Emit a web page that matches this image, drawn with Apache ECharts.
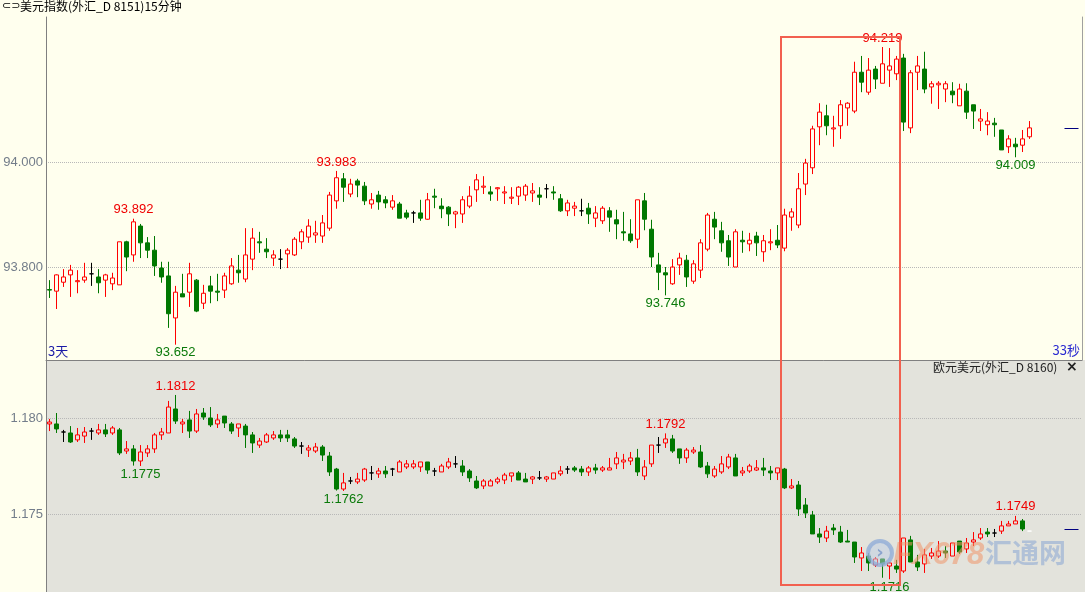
<!DOCTYPE html>
<html><head><meta charset="utf-8">
<script src="https://cdn.jsdelivr.net/npm/echarts@6/dist/echarts.min.js"></script>
<style>
html,body{margin:0;padding:0;background:#ffffee;overflow:hidden;}
#wrap{position:relative;width:1085px;height:592px;}
#lowerBg{position:absolute;left:46px;top:360px;width:1039px;height:232px;background:#e3e3dc;}
#c{position:absolute;left:0;top:0;width:1085px;height:592px;}
</style>
</head><body>
<div id="wrap"><div id="lowerBg"></div><div id="c"></div></div>
<script>
// ---------- data ----------
const categoryCount = 148;
const categories = Array.from({length: categoryCount}, (_, i) => 'K' + (i + 1));

// [open, close, low, high]  美元指数 15分钟
const usdIndexOHLC = [
[93.757,93.756,93.741,93.775],[93.754,93.785,93.720,93.786],[93.771,93.781,93.762,93.796],[93.785,93.794,93.743,93.804],
[93.772,93.774,93.750,93.794],[93.775,93.781,93.770,93.808],[93.787,93.787,93.764,93.808],[93.781,93.770,93.750,93.796],
[93.775,93.785,93.743,93.787],[93.768,93.779,93.756,93.789],[93.766,93.848,93.766,93.848],[93.848,93.819,93.792,93.850],
[93.823,93.886,93.810,93.892],[93.878,93.846,93.817,93.882],[93.846,93.832,93.817,93.857],[93.832,93.802,93.783,93.859],
[93.798,93.781,93.770,93.810],[93.783,93.711,93.684,93.810],[93.703,93.752,93.652,93.764],[93.749,93.743,93.743,93.787],
[93.752,93.787,93.724,93.808],[93.775,93.716,93.714,93.777],[93.731,93.750,93.720,93.766],[93.764,93.754,93.731,93.783],
[93.754,93.752,93.735,93.787],[93.756,93.783,93.741,93.789],[93.768,93.802,93.766,93.817],[93.794,93.789,93.770,93.823],
[93.777,93.823,93.771,93.874],[93.815,93.855,93.794,93.874],[93.848,93.846,93.827,93.867],[93.834,93.829,93.817,93.855],
[93.817,93.823,93.802,93.832],[93.815,93.815,93.796,93.834],[93.825,93.832,93.798,93.836],[93.823,93.853,93.821,93.857],
[93.848,93.867,93.834,93.872],[93.857,93.878,93.846,93.891],[93.861,93.865,93.846,93.888],[93.859,93.884,93.846,93.899],
[93.874,93.937,93.869,93.943],[93.926,93.970,93.911,93.983],[93.968,93.952,93.924,93.979],[93.939,93.958,93.933,93.968],
[93.964,93.956,93.933,93.968],[93.954,93.926,93.918,93.962],[93.920,93.928,93.911,93.941],[93.937,93.924,93.909,93.945],
[93.928,93.922,93.912,93.935],[93.914,93.926,93.909,93.937],[93.920,93.893,93.893,93.924],[93.903,93.895,93.891,93.909],
[93.903,93.903,93.884,93.907],[93.903,93.893,93.888,93.928],[93.891,93.928,93.890,93.941],[93.935,93.933,93.912,93.949],
[93.916,93.911,93.893,93.931],[93.914,93.901,93.878,93.916],[93.901,93.905,93.874,93.907],[93.901,93.928,93.884,93.935],
[93.916,93.935,93.912,93.954],[93.947,93.966,93.924,93.977],[93.952,93.954,93.939,93.973],[93.943,93.939,93.926,93.954],
[93.949,93.951,93.926,93.952],[93.941,93.943,93.920,93.954],[93.931,93.933,93.920,93.952],[93.935,93.952,93.918,93.954],
[93.937,93.954,93.926,93.958],[93.941,93.945,93.924,93.960],[93.937,93.933,93.918,93.952],[93.949,93.949,93.931,93.958],
[93.943,93.941,93.928,93.954],[93.930,93.907,93.905,93.939],[93.907,93.922,93.897,93.928],[93.912,93.916,93.897,93.924],
[93.907,93.907,93.897,93.930],[93.912,93.901,93.882,93.922],[93.893,93.903,93.876,93.916],[93.888,93.912,93.882,93.916],
[93.907,93.895,93.867,93.914],[93.890,93.882,93.853,93.909],[93.867,93.865,93.850,93.905],[93.863,93.850,93.846,93.891],
[93.853,93.928,93.836,93.928],[93.926,93.891,93.870,93.941],[93.872,93.819,93.800,93.890],[93.804,93.790,93.756,93.827],
[93.789,93.785,93.746,93.800],[93.768,93.800,93.766,93.815],[93.804,93.817,93.785,93.827],[93.813,93.781,93.762,93.823],
[93.773,93.806,93.768,93.813],[93.794,93.846,93.779,93.853],[93.834,93.899,93.830,93.903],[93.891,93.876,93.853,93.905],
[93.869,93.846,93.829,93.886],[93.850,93.819,93.802,93.861],[93.800,93.867,93.800,93.872],[93.851,93.848,93.827,93.869],
[93.844,93.851,93.830,93.865],[93.859,93.846,93.821,93.867],[93.829,93.850,93.810,93.861],[93.846,93.848,93.832,93.872],
[93.851,93.842,93.836,93.880],[93.836,93.899,93.830,93.911],[93.895,93.905,93.869,93.912],[93.880,93.949,93.874,93.979],
[93.958,93.998,93.937,94.006],[93.989,94.063,93.977,94.069],[94.067,94.095,94.032,94.112],[94.088,94.069,94.051,94.109],
[94.063,94.065,94.029,94.088],[94.069,94.109,94.044,94.118],[94.103,94.112,94.069,94.114],[94.097,94.171,94.093,94.191],
[94.171,94.152,94.133,94.202],[94.133,94.175,94.128,94.198],[94.177,94.158,94.139,94.183],[94.150,94.187,94.150,94.219],
[94.175,94.183,94.143,94.217],[94.168,94.196,94.156,94.202],[94.198,94.076,94.059,94.206],[94.065,94.170,94.055,94.175],
[94.171,94.183,94.137,94.202],[94.177,94.139,94.131,94.210],[94.143,94.149,94.111,94.154],[94.147,94.150,94.101,94.154],
[94.139,94.149,94.114,94.154],[94.135,94.128,94.112,94.152],[94.107,94.139,94.107,94.149],[94.135,94.095,94.082,94.150],
[94.109,94.097,94.063,94.109],[94.078,94.082,94.059,94.101],[94.071,94.078,94.051,94.095],[94.074,94.071,94.048,94.084],
[94.061,94.023,94.023,94.061],[94.029,94.044,94.017,94.051],[94.034,94.029,94.009,94.046],[94.032,94.044,94.019,94.061],
[94.048,94.065,94.044,94.078]
];

// [open, close, low, high]  欧元美元
const eurUsdOHLC = [
[1.17969,1.17979,1.17932,1.17995],[1.17969,1.17943,1.17922,1.18026],[1.17927,1.17927,1.17875,1.17938],[1.17922,1.17875,1.17870,1.17958],
[1.17886,1.17912,1.17875,1.17948],[1.17906,1.17927,1.17870,1.17953],[1.17932,1.17932,1.17886,1.17948],[1.17922,1.17938,1.17912,1.17969],
[1.17938,1.17917,1.17901,1.17969],[1.17922,1.17948,1.17912,1.17958],[1.17938,1.17818,1.17807,1.17948],[1.17828,1.17839,1.17813,1.17880],
[1.17839,1.17776,1.17752,1.17859],[1.17776,1.17823,1.17750,1.17859],[1.17818,1.17839,1.17797,1.17859],[1.17839,1.17912,1.17818,1.17922],
[1.17912,1.17927,1.17886,1.17948],[1.17922,1.18057,1.17922,1.18089],[1.18047,1.17984,1.17969,1.18120],[1.17969,1.17979,1.17922,1.17995],
[1.17990,1.17932,1.17896,1.18037],[1.17932,1.18021,1.17922,1.18047],[1.18026,1.18005,1.17990,1.18052],[1.18000,1.17964,1.17953,1.18057],
[1.17969,1.17990,1.17948,1.18021],[1.18010,1.17974,1.17948,1.18010],[1.17969,1.17932,1.17917,1.17979],[1.17948,1.17969,1.17901,1.17969],
[1.17958,1.17912,1.17844,1.17969],[1.17912,1.17870,1.17818,1.17927],[1.17859,1.17880,1.17844,1.17896],[1.17875,1.17912,1.17870,1.17922],
[1.17896,1.17912,1.17886,1.17932],[1.17912,1.17896,1.17875,1.17938],[1.17912,1.17896,1.17875,1.17938],[1.17891,1.17854,1.17844,1.17901],
[1.17854,1.17854,1.17813,1.17875],[1.17833,1.17844,1.17797,1.17859],[1.17828,1.17849,1.17818,1.17870],[1.17849,1.17807,1.17776,1.17859],
[1.17802,1.17719,1.17698,1.17823],[1.17734,1.17630,1.17622,1.17740],[1.17630,1.17662,1.17620,1.17714],[1.17672,1.17672,1.17656,1.17693],
[1.17667,1.17682,1.17656,1.17714],[1.17677,1.17734,1.17667,1.17740],[1.17714,1.17714,1.17677,1.17750],[1.17709,1.17724,1.17688,1.17740],
[1.17724,1.17709,1.17688,1.17750],[1.17734,1.17734,1.17698,1.17740],[1.17719,1.17771,1.17719,1.17781],[1.17745,1.17761,1.17734,1.17781],
[1.17745,1.17761,1.17734,1.17781],[1.17745,1.17771,1.17719,1.17771],[1.17771,1.17729,1.17709,1.17771],[1.17724,1.17724,1.17698,1.17740],
[1.17719,1.17750,1.17719,1.17761],[1.17745,1.17771,1.17734,1.17792],[1.17761,1.17761,1.17740,1.17802],[1.17750,1.17719,1.17698,1.17781],
[1.17724,1.17688,1.17667,1.17734],[1.17672,1.17636,1.17630,1.17698],[1.17646,1.17672,1.17630,1.17682],[1.17646,1.17672,1.17646,1.17682],
[1.17667,1.17682,1.17656,1.17693],[1.17677,1.17703,1.17656,1.17714],[1.17698,1.17714,1.17667,1.17714],[1.17714,1.17677,1.17677,1.17724],
[1.17682,1.17667,1.17667,1.17714],[1.17682,1.17693,1.17656,1.17698],[1.17688,1.17688,1.17677,1.17724],[1.17682,1.17693,1.17667,1.17698],
[1.17682,1.17714,1.17682,1.17714],[1.17709,1.17724,1.17698,1.17750],[1.17734,1.17734,1.17709,1.17750],[1.17740,1.17729,1.17719,1.17750],
[1.17734,1.17719,1.17698,1.17750],[1.17719,1.17740,1.17698,1.17750],[1.17740,1.17729,1.17709,1.17761],[1.17729,1.17740,1.17719,1.17750],
[1.17729,1.17740,1.17729,1.17792],[1.17761,1.17792,1.17734,1.17823],[1.17771,1.17781,1.17734,1.17813],[1.17776,1.17792,1.17755,1.17823],
[1.17792,1.17719,1.17698,1.17839],[1.17698,1.17745,1.17677,1.17781],[1.17761,1.17859,1.17745,1.17859],[1.17859,1.17859,1.17818,1.17901],
[1.17870,1.17891,1.17844,1.17920],[1.17891,1.17828,1.17818,1.17912],[1.17839,1.17792,1.17761,1.17839],[1.17792,1.17833,1.17766,1.17844],
[1.17823,1.17833,1.17813,1.17849],[1.17823,1.17745,1.17740,1.17859],[1.17750,1.17709,1.17688,1.17771],[1.17698,1.17734,1.17688,1.17750],
[1.17719,1.17761,1.17709,1.17802],[1.17745,1.17797,1.17734,1.17813],[1.17792,1.17698,1.17698,1.17813],[1.17714,1.17724,1.17698,1.17745],
[1.17724,1.17750,1.17714,1.17761],[1.17729,1.17740,1.17724,1.17781],[1.17740,1.17729,1.17698,1.17792],[1.17724,1.17714,1.17677,1.17750],
[1.17714,1.17740,1.17677,1.17740],[1.17734,1.17636,1.17630,1.17740],[1.17636,1.17646,1.17630,1.17682],[1.17651,1.17526,1.17490,1.17672],
[1.17547,1.17505,1.17479,1.17583],[1.17495,1.17396,1.17396,1.17516],[1.17396,1.17380,1.17349,1.17427],[1.17375,1.17411,1.17354,1.17438],
[1.17427,1.17417,1.17391,1.17448],[1.17406,1.17354,1.17349,1.17438],[1.17359,1.17354,1.17354,1.17417],[1.17354,1.17276,1.17245,1.17354],
[1.17271,1.17297,1.17203,1.17328],[1.17281,1.17245,1.17203,1.17297],[1.17234,1.17266,1.17224,1.17276],[1.17266,1.17240,1.17168,1.17266],
[1.17229,1.17245,1.17160,1.17250],[1.17229,1.17213,1.17193,1.17261],[1.17203,1.17375,1.17193,1.17375],[1.17365,1.17250,1.17250,1.17386],
[1.17250,1.17224,1.17203,1.17287],[1.17240,1.17287,1.17193,1.17318],[1.17281,1.17297,1.17266,1.17323],[1.17281,1.17307,1.17271,1.17359],
[1.17307,1.17297,1.17271,1.17333],[1.17281,1.17349,1.17281,1.17349],[1.17359,1.17302,1.17292,1.17359],[1.17318,1.17349,1.17297,1.17375],
[1.17354,1.17365,1.17333,1.17406],[1.17375,1.17396,1.17365,1.17427],[1.17406,1.17396,1.17380,1.17427],[1.17401,1.17401,1.17380,1.17422],
[1.17411,1.17438,1.17396,1.17464],[1.17438,1.17448,1.17438,1.17464],[1.17448,1.17464,1.17448,1.17490],[1.17464,1.17422,1.17411,1.17474],
[1.17411,1.17411,1.17411,1.17411]
];

const usdTicks = [93.8, 94.0];
const eurTicks = [1.175, 1.180];
// [index, value, side]
const usdExtremes = [[12,93.892,'high'],[18,93.652,'low'],[41,93.983,'high'],[88,93.746,'low'],[119,94.219,'high'],[138,94.009,'low']];
const eurExtremes = [[18,1.1812,'high'],[13,1.1775,'low'],[42,1.1762,'low'],[88,1.1792,'high'],[138,1.1749,'high'],[120,1.1716,'low']];
const usdLastPrice = 94.065;
const eurLastPrice = 1.17422;
// highlighted window (category edges) and its price bounds
const boxFromIndex = 105, boxToIndex = 122;
const boxTopPrice = 94.238, boxBottomPrice = 1.1713;

// ---------- styles ----------
const UP = '#ff0000', DOWN = '#007800', TXT_UP = '#f00000', TXT_DOWN = '#0a7a0a';
const NUM_FONT = 'Liberation Sans';

function toItems(arr, lastDojiColor) {
  return arr.map((d, i) => {
    if (d[0] === d[1]) {
      const c = (lastDojiColor && i === arr.length - 1) ? lastDojiColor : '#000000';
      return {value: d, itemStyle: {color: c, color0: c, borderColor: c, borderColor0: c, borderColorDoji: c}};
    }
    return d;
  });
}
function extremeMarks(list, digits) {
  return list.map(([i, v, side]) => ({
    coord: [i, v], name: v.toFixed(digits),
    label: {position: side === 'high' ? 'top' : 'bottom', distance: side === 'high' ? 2 : 1,
            color: side === 'high' ? TXT_UP : TXT_DOWN}
  }));
}
function lastLine(v) {
  return {silent: true, symbol: ['none', 'none'], label: {show: false},
          lineStyle: {color: '#000080', width: 1, type: 'solid'},
          data: [[{coord: [145, v]}, {coord: [147, v]}]]};
}
const markPointBase = {symbol: 'circle', symbolSize: 1, itemStyle: {color: 'rgba(0,0,0,0)'},
  label: {show: true, formatter: '{b}', fontSize: 13, fontFamily: NUM_FONT}};

const candleStyle = {color: 'rgba(0,0,0,0)', color0: DOWN, borderColor: UP, borderColor0: DOWN,
                     borderColorDoji: '#000000', borderWidth: 1};

const chart = echarts.init(document.getElementById('c'), null, {renderer: 'canvas'});
const yLabel = {color: '#737d8a', fontSize: 13, fontFamily: NUM_FONT, margin: 3};
chart.setOption({
  animation: false,
  grid: [
    {left: 46, top: 17, width: 1036, height: 343},
    {left: 46, top: 360, width: 1036, height: 232}
  ],
  xAxis: [
    {gridIndex: 0, type: 'category', data: categories, boundaryGap: true,
     axisLine: {show: true, lineStyle: {color: '#808080'}}, axisTick: {show: false}, axisLabel: {show: false}, splitLine: {show: false}},
    {gridIndex: 1, type: 'category', data: categories, boundaryGap: true,
     axisLine: {show: false}, axisTick: {show: false}, axisLabel: {show: false}, splitLine: {show: false}}
  ],
  yAxis: [
    {gridIndex: 0, type: 'value', position: 'left', min: 93.62286, max: 94.27619,
     axisLine: {show: true, lineStyle: {color: '#808080'}},
     axisTick: {show: false, customValues: usdTicks},
     axisLabel: Object.assign({customValues: usdTicks, formatter: v => v.toFixed(3)}, yLabel),
     splitLine: {show: true, lineStyle: {color: '#b8b8b8', type: 'dotted', width: 1}}},
    {gridIndex: 1, type: 'value', position: 'left', min: 1.1709375, max: 1.1830208,
     axisLine: {show: true, lineStyle: {color: '#808080'}},
     axisTick: {show: false, customValues: eurTicks},
     axisLabel: Object.assign({customValues: eurTicks, formatter: v => v.toFixed(3)}, yLabel),
     splitLine: {show: true, lineStyle: {color: '#b8b8b8', type: 'dotted', width: 1}}},
    {gridIndex: 0, type: 'value', position: 'right', min: 0, max: 1,
     axisLine: {show: true, lineStyle: {color: '#a0a0a0'}}, axisTick: {show: false}, axisLabel: {show: false}, splitLine: {show: false}}
  ],
  series: [
    {type: 'candlestick', name: '美元指数', xAxisIndex: 0, yAxisIndex: 0, silent: true, barWidth: 4,
     data: toItems(usdIndexOHLC), itemStyle: candleStyle,
     markPoint: Object.assign({data: extremeMarks(usdExtremes, 3)}, markPointBase),
     markLine: lastLine(usdLastPrice)},
    {type: 'candlestick', name: '欧元美元', xAxisIndex: 1, yAxisIndex: 1, silent: true, barWidth: 4,
     data: toItems(eurUsdOHLC, '#ffffff'), itemStyle: candleStyle,
     markPoint: Object.assign({data: extremeMarks(eurExtremes, 4)}, markPointBase),
     markLine: lastLine(eurLastPrice)}
  ]
});

// highlighted rectangle, placed through the axes' own scales
const px = i => chart.convertToPixel({xAxisIndex: 0}, categories[i]);
const bx1 = (px(boxFromIndex - 1) + px(boxFromIndex)) / 2;
const bx2 = (px(boxToIndex - 1) + px(boxToIndex)) / 2;
const by1 = chart.convertToPixel({yAxisIndex: 0}, boxTopPrice);
const by2 = chart.convertToPixel({yAxisIndex: 1}, boxBottomPrice);

const CJK = '"Noto Sans CJK SC"';
chart.setOption({
  graphic: [
    {type: 'text', left: 2, top: 1, style: {text: '⊂⊃', font: '11px "DejaVu Sans"', fill: '#000'}},
    {type: 'text', left: 20, top: 0, style: {text: '美元指数(外汇_D 8151)15分钟', font: '12px ' + CJK, fill: '#000'}},
    {type: 'text', left: 48, top: 345, style: {text: '3天', font: '13px ' + CJK, fill: '#1a1aa6'}},
    {type: 'text', right: 5, top: 344, style: {text: '33秒', font: '13px ' + CJK, fill: '#2a2ad0'}},
    {type: 'text', left: 933, top: 361, style: {text: '欧元美元(外汇_D 8160)', font: '12px ' + CJK, fill: '#222'}},
    {type: 'text', left: 1066, top: 360, style: {text: '×', font: 'bold 14px "DejaVu Sans"', fill: '#222'}},
    // watermark
    {type: 'circle', shape: {cx: 880, cy: 553, r: 12}, style: {fill: 'rgba(190,205,228,0.5)', stroke: 'rgba(140,170,215,0.75)', lineWidth: 4}, z: 5},
    {type: 'text', x: 880, y: 553, style: {text: '›', font: 'bold 18px "DejaVu Sans"', fill: 'rgba(120,150,200,0.8)', align: 'center', verticalAlign: 'middle'}, z: 5},
    {type: 'text', x: 893, y: 555, style: {text: 'FX678', font: 'italic bold 31px "Liberation Sans"', fill: 'rgba(240,150,105,0.55)', verticalAlign: 'middle'}, z: 5},
    {type: 'text', x: 985, y: 553, style: {text: '汇通网', font: 'bold 27px ' + CJK, fill: 'rgba(150,175,212,0.65)', verticalAlign: 'middle'}, z: 5},
    // red highlight box
    {type: 'rect', shape: {x: bx1, y: by1, width: bx2 - bx1, height: by2 - by1},
     style: {fill: 'none', stroke: '#f2604f', lineWidth: 2}, z: 100}
  ]
});
</script>
</body></html>
